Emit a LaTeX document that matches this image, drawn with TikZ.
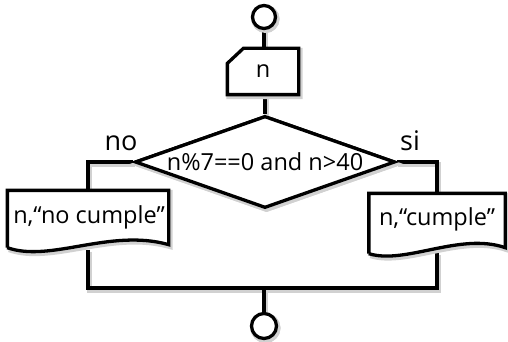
\documentclass[tikz,border=0pt]{standalone}
\usepackage{fontspec}
\setmainfont{Open Sans}
\usetikzlibrary{shapes.geometric,calc}
\begin{document}
\begin{tikzpicture}[x=1pt,y=-1pt,
  line width=3.3pt, line join=miter,
  soft/.style={preaction={draw=black!18, line width=5pt,
      transform canvas={shift={(1.5pt,-2pt)}}}},
  every node/.style={font=\fontsize{23.5}{28}\selectfont, inner sep=0pt},
  terminal/.style={draw, soft, circle, minimum size=23pt},
  box/.style={rectangle},
  decision/.style={draw, soft, diamond, minimum width=260pt, minimum height=92pt},
  branchlabel/.style={font=\fontsize{27}{32}\selectfont}]
\useasboundingbox (0,0) rectangle (508,342);

% connectors first, so the shapes sit on top of them
\coordinate (join) at (264,288);
\node[box, minimum width=68pt, minimum height=43pt] (inp) at (263,71.5) {};
\node[decision] (dec) at (265,162) {};
\node[box, minimum width=158pt, minimum height=56pt] (ldoc) at (88,220) {};
\node[box, minimum width=133pt, minimum height=56pt] (rdoc) at (437,223) {};
\node[terminal, draw=none, preaction={}] (start) at (264,17) {};
\node[terminal, draw=none, preaction={}, minimum size=25pt] (stop) at (264,326) {};

\draw[soft] (start.south) -- (start.south |- inp.north);
\draw[soft] (inp.south -| dec.north) -- (dec.north);
\draw[soft] (dec.west) -| (ldoc.north);
\draw[soft] (dec.east) -| (rdoc.north);
\draw[soft] (ldoc.south) |- (join) -| (rdoc.south);
\draw[soft] (join) -- (stop.north);

% terminals
\node[terminal, fill=white] at (start) {};
\node[terminal, fill=white, minimum size=25pt] at (stop) {};

% input block with chamfered corner
\draw[soft, fill=white] ($(inp.north west)+(0,15)$) -- ($(inp.north west)+(16,0)$)
  -- (inp.north east) -- (inp.south east) -- (inp.south west) -- cycle;
\node at (inp.center) {n};

% decision
\node[decision, fill=white] at (dec) {};
\node at (dec.center) {n\%7==0 and n>40};

% output documents
\draw[soft, fill=white] ($(ldoc.south west)+(0,-2)$) -- (ldoc.north west) -- (ldoc.north east)
  -- ($(ldoc.south east)+(0,-5)$)
  .. controls (110,228) and (50,263) .. ($(ldoc.south west)+(0,-2)$);
\node at ($(ldoc.center)+(1,-3)$) {n,“no cumple”};

\draw[soft, fill=white] ($(rdoc.south west)+(0,1)$) -- (rdoc.north west) -- (rdoc.north east)
  -- ($(rdoc.south east)+(0,-5)$)
  .. controls (460,232) and (405,265) .. ($(rdoc.south west)+(0,1)$);
\node at ($(rdoc.center)+(0,-4)$) {n,“cumple”};

% branch labels
\node[branchlabel] (lno) at (121,143) {no};
\node[branchlabel] (lsi) at (410,141) {si};
\end{tikzpicture}
\end{document}
